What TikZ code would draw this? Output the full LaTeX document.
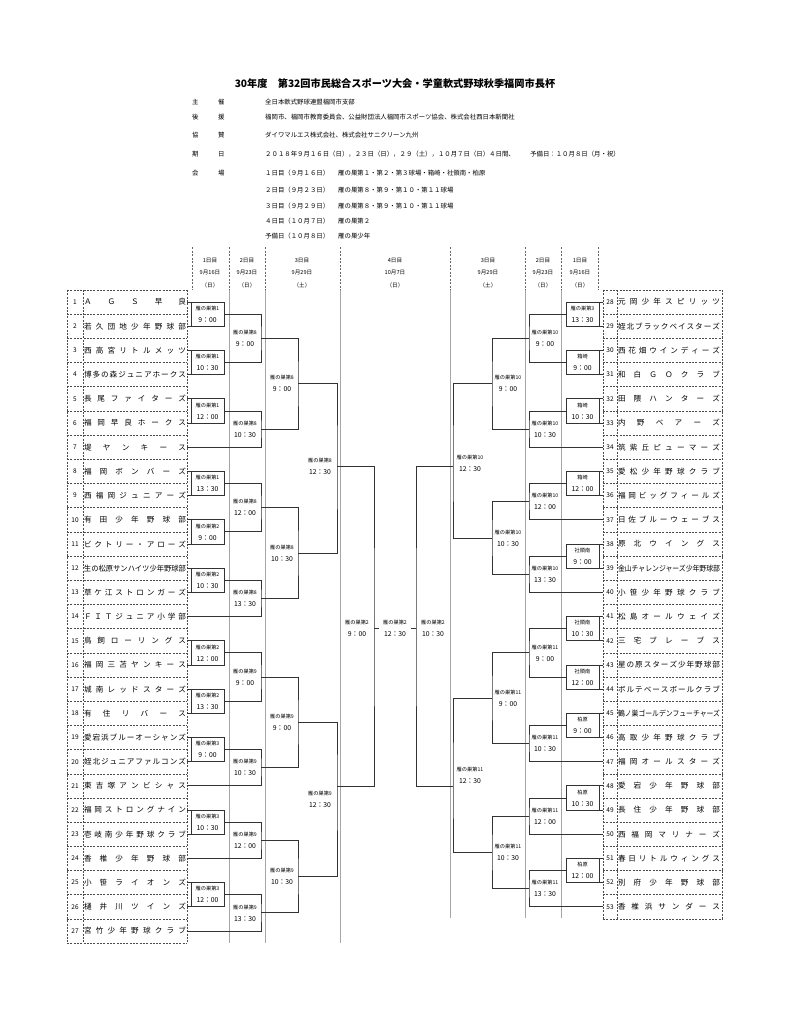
\documentclass[tikz,border=0pt]{standalone}
\usepackage{fontspec}
\setmainfont{Noto Sans CJK JP}
\usepackage{graphicx}
\usetikzlibrary{positioning}

% row height of the team table
\def\rh{24.19}
\newlength\teamw \setlength\teamw{102pt}
\newsavebox\namebox
% spread the characters of a team name over the cell
\def\spfirst#1{#1\spnext}
\def\spnext#1{\ifx\relax#1\else\hfill#1\expandafter\spnext\fi}
\newcommand\spreadname[1]{%
  \sbox\namebox{#1}%
  \ifdim\wd\namebox>\teamw
    \resizebox{\teamw}{\height}{\usebox\namebox}%
  \else
    \makebox[\teamw][s]{\expandafter\spfirst#1\relax}%
  \fi}
\newcommand\mtime[1]{{\fontsize{6.8}{12}\selectfont #1}}

\tikzset{
  tbl/.style={draw=black!70, line width=.6pt, dash pattern=on 2pt off 1.3pt},
  hdrsep/.style={draw=black!60, line width=.6pt, dash pattern=on 2pt off 1.5pt},
  colline/.style={draw=black!35, line width=.6pt},
  br/.style={draw=black!80, line width=.9pt},
  tname/.style={inner xsep=1pt, inner ysep=0pt, outer sep=0pt,
                font=\fontsize{7.6}{9}\selectfont},
  tnum/.style={inner sep=0pt, outer sep=0pt, font=\fontsize{6.5}{8}\selectfont},
  r1/.style={draw=black!80, line width=.9pt, minimum width=33pt,
             minimum height=\rh pt, inner sep=0pt, outer sep=0pt,
             align=center, font=\fontsize{5.2}{12}\selectfont},
  mlab/.style={inner sep=0pt, outer sep=0pt, align=center,
               font=\fontsize{5.2}{12}\selectfont},
  hd/.style={anchor=west, inner sep=0pt, font=\fontsize{6.4}{8}\selectfont},
  colhd/.style={inner sep=0pt, align=center, font=\fontsize{5.6}{12.5}\selectfont},
}

\begin{document}
\begin{tikzpicture}[x=1pt, y=-1pt]
  \fill[white] (0,0) rectangle (791,1024);
  \useasboundingbox (0,0) rectangle (791,1024);

  % title and notes
  \node[inner sep=0pt, font=\fontsize{10.2}{12}\selectfont\bfseries] (title) at (395,84)
    {30年度　第32回市民総合スポーツ大会・学童軟式野球秋季福岡市長杯};
  \node[hd] (k1a) at (192,102) {主}; \node[hd] (k1b) at (218,102) {催};
  \node[hd] (k1) at (265,102) {全日本軟式野球連盟福岡市支部};
  \node[hd] (k2a) at (192,117) {後}; \node[hd] (k2b) at (218,117) {援};
  \node[hd] (k2) at (265,117) {福岡市、福岡市教育委員会、公益財団法人福岡市スポーツ協会、株式会社西日本新聞社};
  \node[hd] (k3a) at (192,135) {協}; \node[hd] (k3b) at (218,135) {賛};
  \node[hd] (k3) at (265,135) {ダイワマルエス株式会社、株式会社サニクリーン九州};
  \node[hd] (k4a) at (192,154) {期}; \node[hd] (k4b) at (218,154) {日};
  \node[hd] (k4) at (265,154) {２０１８年９月１６日（日），２３日（日），２９（土），１０月７日（日）４日間、};
  \node[hd] (k4r) at (530,154) {予備日：１０月８日（月・祝）};
  \node[hd] (k5a) at (192,173) {会}; \node[hd] (k5b) at (218,173) {場};
  \node[hd] (d1) at (265,173) {１日目（９月１６日）};
  \node[hd] (v1) at (338,173) {雁の巣第１・第２・第３球場・箱崎・社領南・柏原};
  \node[hd] (d2) at (265,190) {２日目（９月２３日）};
  \node[hd] (v2) at (338,190) {雁の巣第８・第９・第１０・第１１球場};
  \node[hd] (d3) at (265,206) {３日目（９月２９日）};
  \node[hd] (v3) at (338,206) {雁の巣第８・第９・第１０・第１１球場};
  \node[hd] (d4) at (265,221) {４日目（１０月７日）};
  \node[hd] (v4) at (338,221) {雁の巣第２};
  \node[hd] (d5) at (265,236) {予備日（１０月８日）};
  \node[hd] (v5) at (338,236) {雁の巣少年};

  % day columns
  \foreach \x/\d/\dt/\w [count=\c] in {210/1日目/9月16日/日, 247/2日目/9月23日/日,
      302/3日目/9月29日/土, 395/4日目/10月7日/日, 488/3日目/9月29日/土,
      543/2日目/9月23日/日, 580/1日目/9月16日/日}
    \node[colhd] (day\c) at (\x,273) {\d\\\dt\\（\w）};
  \foreach \x in {192,229,265,340,450,525,561,598}
    \draw[hdrsep] (\x,247) -- (\x,290);
  \foreach \x in {229,265,340}
    \draw[colline] (\x,290) -- (\x,943);
  \foreach \x in {450,525,561}
    \draw[colline] (\x,290) -- (\x,918);

  % team tables
  \foreach \k in {0,...,27}
    \draw[tbl] (67,{290+\k*\rh}) -- (187,{290+\k*\rh});
  \foreach \x in {67,83,187}
    \draw[tbl] (\x,290) -- (\x,{290+27*\rh});
  \foreach \k in {0,...,26}
    \draw[tbl] (603,{290+\k*\rh}) -- (722,{290+\k*\rh});
  \foreach \x in {603,617,722}
    \draw[tbl] (\x,290) -- (\x,{290+26*\rh});

  \foreach \i/\nm in {1/ＡＧＳ早良, 2/若久団地少年野球部, 3/西高宮リトルメッツ,
      4/博多の森ジュニアホークス, 5/長尾ファイターズ, 6/福岡早良ホークス,
      7/堤ヤンキース, 8/福岡ボンバーズ, 9/西福岡ジュニアーズ, 10/有田少年野球部,
      11/ビクトリー・アローズ, 12/生の松原サンハイツ少年野球部, 13/草ケ江ストロンガーズ,
      14/ＦＩＴジュニア小学部, 15/鳥飼ローリングス, 16/福岡三苫ヤンキース,
      17/城南レッドスターズ, 18/有住リバース, 19/愛宕浜ブルーオーシャンズ,
      20/姪北ジュニアファルコンズ, 21/東吉塚アンビシャス, 22/福岡ストロングナイン,
      23/壱岐南少年野球クラブ, 24/香椎少年野球部, 25/小笹ライオンズ,
      26/樋井川ツインズ, 27/宮竹少年野球クラブ} {
    \pgfmathsetmacro\yy{290+(\i-0.5)*\rh}
    \node[tname, anchor=east] (t\i) at (187,\yy) {\spreadname{\nm}};
    \node[tnum, minimum width=16pt] (n\i) at (75,\yy) {\i};
  }
  \foreach \i/\nm in {28/元岡少年スピリッツ, 29/姪北ブラックベイスターズ,
      30/西花畑ウインディーズ, 31/和白ＧＯクラブ, 32/田隈ハンターズ, 33/内野ベアーズ,
      34/筑紫丘ピューマーズ, 35/愛松少年野球クラブ, 36/福岡ビッグフィールズ,
      37/日佐ブルーウェーブス, 38/原北ウイングス, 39/金山チャレンジャーズ少年野球部,
      40/小笹少年野球クラブ, 41/松島オールウェイズ, 42/三宅ブレーブス,
      43/星の原スターズ少年野球部, 44/ボルテベースボールクラブ,
      45/鶴ノ巣ゴールデンフューチャーズ, 46/高取少年野球クラブ, 47/福岡オールスターズ,
      48/愛宕少年野球部, 49/長住少年野球部, 50/西福岡マリナーズ,
      51/春日リトルウィングス, 52/別府少年野球部, 53/香椎浜サンダース} {
    \pgfmathsetmacro\yy{290+(\i-27.5)*\rh}
    \node[tname, anchor=west] (t\i) at (617,\yy) {\spreadname{\nm}};
    \node[tnum, minimum width=14pt] (n\i) at (610,\yy) {\i};
  }

  % 1st day
  \foreach \k/\ven/\tim in {1/雁の巣第1/9：00, 3/雁の巣第1/10：30, 5/雁の巣第1/12：00,
      8/雁の巣第1/13：30, 10/雁の巣第2/9：00, 12/雁の巣第2/10：30, 15/雁の巣第2/12：00,
      17/雁の巣第2/13：30, 19/雁の巣第3/9：00, 22/雁の巣第3/10：30, 25/雁の巣第3/12：00} {
    \pgfmathsetmacro\yy{290+\k*\rh}
    \pgfmathtruncatemacro\kk{\k+1}
    \node[r1] (mL\k) at (207.5,\yy) {\ven\\\mtime{\tim}};
    \draw[br] (t\k.east) -- (mL\k.north west);
    \draw[br] (t\kk.east) -- (mL\k.south west);
  }
  \foreach \k/\ven/\tim in {28/雁の巣第3/13：30, 30/箱崎/9：00, 32/箱崎/10：30,
      35/箱崎/12：00, 38/社領南/9：00, 41/社領南/10：30, 43/社領南/12：00,
      45/柏原/9：00, 48/柏原/10：30, 51/柏原/12：00} {
    \pgfmathsetmacro\yy{290+(\k-27)*\rh}
    \pgfmathtruncatemacro\kk{\k+1}
    \node[r1] (mR\k) at (582.5,\yy) {\ven\\\mtime{\tim}};
    \draw[br] (n\k.west) -- (mR\k.north east);
    \draw[br] (n\kk.west) -- (mR\k.south east);
  }

  % 2nd day
  \foreach \n/\a/\b/\pa/\pb/\ven/\tim in {1/mL1/mL3/1/3/雁の巣第8/9：00,
      2/mL5/t7/5/6.5/雁の巣第8/10：30, 3/mL8/mL10/8/10/雁の巣第8/12：00,
      4/mL12/t14/12/13.5/雁の巣第8/13：30, 5/mL15/mL17/15/17/雁の巣第9/9：00,
      6/mL19/t21/19/20.5/雁の巣第9/10：30, 7/mL22/t24/22/23.5/雁の巣第9/12：00,
      8/mL25/t27/25/26.5/雁の巣第9/13：30} {
    \pgfmathsetmacro\yy{290+(\pa+\pb)/2*\rh}
    \coordinate (vL2-\n) at (261,\yy);
    \node[mlab] (mL2-\n) at (245,\yy) {\ven\\\mtime{\tim}};
    \draw[br] (\a.east) -| (vL2-\n) |- (\b.east);
  }
  \foreach \n/\a/\b/\pa/\pb/\ven/\tim in {1/mR28/mR30/1/3/雁の巣第10/9：00,
      2/mR32/n34/5/6.5/雁の巣第10/10：30, 3/mR35/n37/8/9.5/雁の巣第10/12：00,
      4/mR38/n40/11/12.5/雁の巣第10/13：30, 5/mR41/mR43/14/16/雁の巣第11/9：00,
      6/mR45/n47/18/19.5/雁の巣第11/10：30, 7/mR48/n50/21/22.5/雁の巣第11/12：00,
      8/mR51/n53/24/25.5/雁の巣第11/13：30} {
    \pgfmathsetmacro\yy{290+(\pa+\pb)/2*\rh}
    \coordinate (vR2-\n) at (529,\yy);
    \node[mlab] (mR2-\n) at (545,\yy) {\ven\\\mtime{\tim}};
    \draw[br] (\a.west) -| (vR2-\n) |- (\b.west);
  }

  % 3rd day
  \foreach \n/\a/\b/\pa/\pb/\ven/\tim in {1/vL2-1/vL2-2/2/5.75/雁の巣第8/9：00,
      2/vL2-3/vL2-4/9/12.75/雁の巣第8/10：30, 3/vL2-5/vL2-6/16/19.75/雁の巣第9/9：00,
      4/vL2-7/vL2-8/22.75/25.75/雁の巣第9/10：30} {
    \pgfmathsetmacro\yy{290+(\pa+\pb)/2*\rh}
    \coordinate (vL3-\n) at (298,\yy);
    \node[mlab] (mL3-\n) at (282,\yy) {\ven\\\mtime{\tim}};
    \draw[br] (\a) -| (vL3-\n) |- (\b);
  }
  \foreach \n/\a/\b/\pa/\pb/\ven/\tim in {1/vR2-1/vR2-2/2/5.75/雁の巣第10/9：00,
      2/vR2-3/vR2-4/8.75/11.75/雁の巣第10/10：30, 3/vR2-5/vR2-6/15/18.75/雁の巣第11/9：00,
      4/vR2-7/vR2-8/21.75/24.75/雁の巣第11/10：30} {
    \pgfmathsetmacro\yy{290+(\pa+\pb)/2*\rh}
    \coordinate (vR3-\n) at (492,\yy);
    \node[mlab] (mR3-\n) at (508,\yy) {\ven\\\mtime{\tim}};
    \draw[br] (\a) -| (vR3-\n) |- (\b);
  }

  \coordinate (vL4-1) at (337,466);
  \coordinate (vL4-2) at (337,786);
  \node[mlab] (mL4-1) at (320,466) {雁の巣第8\\\mtime{12：30}};
  \node[mlab] (mL4-2) at (320,799) {雁の巣第9\\\mtime{12：30}};
  \draw[br] (vL3-1) -| (vL4-1) |- (vL3-2);
  \draw[br] (vL3-3) -| (vL4-2) |- (vL3-4);
  \coordinate (vR4-1) at (453,466);
  \coordinate (vR4-2) at (453,786);
  \node[mlab] (mR4-1) at (470,463) {雁の巣第10\\\mtime{12：30}};
  \node[mlab] (mR4-2) at (470,775) {雁の巣第11\\\mtime{12：30}};
  \draw[br] (vR3-1) -| (vR4-1) |- (vR3-2);
  \draw[br] (vR3-3) -| (vR4-2) |- (vR3-4);

  % 4th day
  \coordinate (vL5) at (374,628);
  \coordinate (vR5) at (416,628);
  \node[mlab] (mL5) at (357,628) {雁の巣第2\\\mtime{9：00}};
  \node[mlab] (mR5) at (433,628) {雁の巣第2\\\mtime{10：30}};
  \node[mlab, minimum width=32pt] (final) at (395,628) {雁の巣第2\\\mtime{12：30}};
  \draw[br] (vL4-1) -| (vL5) |- (vL4-2);
  \draw[br] (vR4-1) -| (vR5) |- (vR4-2);
  \draw[br] (vL5) -- (final.west);
  \draw[br] (vR5) -- (final.east);
\end{tikzpicture}
\end{document}
